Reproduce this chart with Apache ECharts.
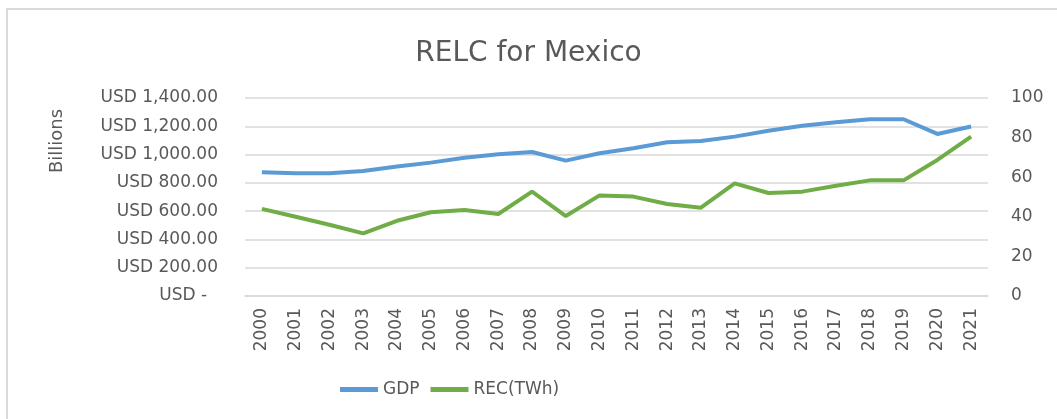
<!DOCTYPE html>
<html><head><meta charset="utf-8">
<script src="https://cdn.jsdelivr.net/npm/echarts@6/dist/echarts.min.js"></script>
<style>html,body{margin:0;padding:0;background:#fff}#c{width:1057px;height:419px}</style>
</head><body><div id="c"></div>
<script>
const years = ['2000','2001','2002','2003','2004','2005','2006','2007','2008','2009','2010','2011','2012','2013','2014','2015','2016','2017','2018','2019','2020','2021'];
const gdp = [875, 868, 868, 884, 915, 943, 978, 1002, 1018, 957, 1009, 1045, 1087, 1096, 1127, 1169, 1204, 1228, 1250, 1250, 1146, 1198];
const rec = [44, 40, 36, 31.6, 38, 42.3, 43.4, 41.4, 52.7, 40.4, 50.8, 50.2, 46.5, 44.6, 56.9, 52, 52.7, 55.7, 58.4, 58.4, 68.7, 80.5];
const leftTicks = {0:'USD -  ',200:'USD 200.00',400:'USD 400.00',600:'USD 600.00',800:'USD 800.00',1000:'USD 1,000.00',1200:'USD 1,200.00',1400:'USD 1,400.00'};
const FONT = 'DejaVu Sans';
const TC = '#595959';
const chart = echarts.init(document.getElementById('c'));
chart.setOption({
  animation: false,
  textStyle: {fontFamily: FONT},
  title: {text: 'RELC for Mexico', left: 'center', top: 35, textStyle: {fontFamily: FONT, fontSize: 28, fontWeight: 'normal', color: TC}},
  grid: {left: 245, right: 69, top: 98, bottom: 123, containLabel: false},
  legend: {bottom: 16, left: 335, itemWidth: 38, itemHeight: 5, itemGap: 11, icon: 'rect',
    textStyle: {fontFamily: FONT, fontSize: 17, color: TC},
    data: ['GDP', 'REC(TWh)']},
  xAxis: {type: 'category', data: years, boundaryGap: true,
    axisLine: {show: true, lineStyle: {color: '#D9D9D9', width: 1.5}},
    axisTick: {show: false},
    axisLabel: {rotate: 90, fontFamily: FONT, fontSize: 17, color: TC, margin: 12}},
  yAxis: [
    {type: 'value', min: 0, max: 1400, interval: 200,
     axisLine: {show: false}, axisTick: {show: false},
     splitLine: {lineStyle: {color: '#D9D9D9', width: 1.5}},
     axisLabel: {fontFamily: FONT, fontSize: 17, color: TC, margin: 27, formatter: v => leftTicks[v]}},
    {type: 'value', min: 0, max: 100, interval: 20, position: 'right',
     axisLine: {show: false}, axisTick: {show: false}, splitLine: {show: false},
     axisLabel: {fontFamily: FONT, fontSize: 17, color: TC, margin: 23}}
  ],
  graphic: [
    {type: 'rect', shape: {x: 7, y: 9, width: 1200, height: 600}, style: {fill: 'none', stroke: '#D9D9D9', lineWidth: 2}, silent: true},
    {type: 'text', x: 57, y: 141, rotation: Math.PI / 2, style: {text: 'Billions', fontFamily: FONT, fontSize: 18, fill: TC, textAlign: 'center', textVerticalAlign: 'middle'}}
  ],
  series: [
    {name: 'GDP', type: 'line', data: gdp, yAxisIndex: 0, showSymbol: false, lineStyle: {color: '#5B9BD5', width: 4}, itemStyle: {color: '#5B9BD5'}},
    {name: 'REC(TWh)', type: 'line', data: rec, yAxisIndex: 1, showSymbol: false, lineStyle: {color: '#70AD47', width: 4}, itemStyle: {color: '#70AD47'}}
  ]
});
</script></body></html>
